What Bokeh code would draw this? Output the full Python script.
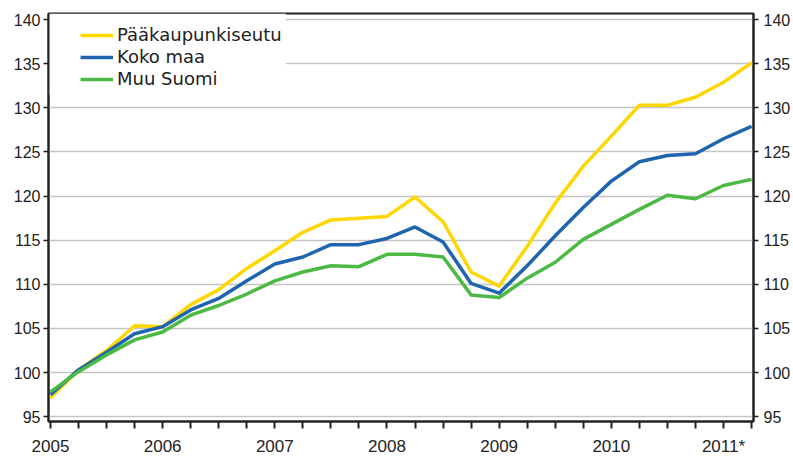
from bokeh.plotting import figure
from bokeh.models import (Range1d, FixedTicker, LinearAxis, Legend, LegendItem,
                          BoxAnnotation, ColumnDataSource)
from bokeh.embed import file_html
from bokeh.resources import INLINE

quarters = ["2005Q1", "2005Q2", "2005Q3", "2005Q4",
            "2006Q1", "2006Q2", "2006Q3", "2006Q4",
            "2007Q1", "2007Q2", "2007Q3", "2007Q4",
            "2008Q1", "2008Q2", "2008Q3", "2008Q4",
            "2009Q1", "2009Q2", "2009Q3", "2009Q4",
            "2010Q1", "2010Q2", "2010Q3", "2010Q4",
            "2011Q1", "2011Q2"]
year_labels = ["2005", "2006", "2007", "2008", "2009", "2010", "2011*"]

paakaupunkiseutu = [97.1, 100.3, 102.5, 105.3, 105.2, 107.7, 109.4, 111.8, 113.8, 115.9,
                    117.3, 117.5, 117.7, 119.9, 117.1, 111.4, 109.8, 114.3, 119.2, 123.4,
                    126.8, 130.3, 130.3, 131.2, 132.9, 135.1]
koko_maa = [97.5, 100.3, 102.3, 104.4, 105.2, 107.1, 108.4, 110.4, 112.3, 113.1,
            114.5, 114.5, 115.2, 116.5, 114.8, 110.1, 109.0, 112.1, 115.5, 118.7,
            121.7, 123.9, 124.6, 124.8, 126.5, 127.9]
muu_suomi = [97.8, 100.1, 102.0, 103.7, 104.6, 106.5, 107.6, 108.9, 110.4, 111.4,
             112.1, 112.0, 113.4, 113.4, 113.1, 108.8, 108.5, 110.7, 112.5, 115.1,
             116.8, 118.5, 120.1, 119.7, 121.2, 121.9]
y_ticks = [95, 100, 105, 110, 115, 120, 125, 130, 135, 140]

xi = list(range(len(quarters)))
src = ColumnDataSource(dict(x=xi, pk=paakaupunkiseutu, km=koko_maa, ms=muu_suomi))

p = figure(width=793, height=458, output_backend="svg", toolbar_location=None,
           x_range=Range1d(-0.07, 25.07), y_range=Range1d(94.45, 140.7))
p.min_border_left = 48
p.min_border_right = 40
p.min_border_top = 13
p.min_border_bottom = 35
p.background_fill_color = "white"
p.border_fill_color = "white"
p.outline_line_color = "#222222"
p.outline_line_width = 2

AX = "#222222"
TXT = "#222222"

# x axis
xa = p.xaxis[0]
xa.ticker = FixedTicker(ticks=xi)
overrides = {i: "" for i in xi}
for k, lab in enumerate(year_labels):
    overrides[k * 4] = lab
xa.major_label_overrides = overrides
xa.major_tick_out = 7
xa.major_tick_in = 0
xa.minor_tick_out = 0
xa.minor_tick_in = 0
xa.major_tick_line_width = 2
xa.major_tick_line_color = AX
xa.axis_line_width = 2
xa.axis_line_color = AX
xa.major_label_standoff = 8
xa.major_label_text_font = "Liberation Sans"
xa.major_label_text_font_size = "17px"
xa.major_label_text_color = TXT

# y axes
ya = p.yaxis[0]
ya.ticker = FixedTicker(ticks=y_ticks)
yr = LinearAxis(ticker=FixedTicker(ticks=y_ticks))
p.add_layout(yr, "right")
for a, so in [(ya, 3), (yr, 5)]:
    a.major_tick_out = 5
    a.major_tick_in = 0
    a.minor_tick_out = 0
    a.minor_tick_in = 0
    a.major_tick_line_width = 1.5
    a.major_tick_line_color = AX
    a.axis_line_width = 2
    a.axis_line_color = AX
    a.major_label_standoff = so
    a.major_label_text_font = "Liberation Sans"
    a.major_label_text_font_size = "16px"
    a.major_label_text_color = TXT

p.xgrid.grid_line_color = None
p.ygrid.ticker = FixedTicker(ticks=y_ticks)
p.ygrid.grid_line_color = "#c4c4c4"
p.ygrid.grid_line_width = 1.5

# white area behind legend (hides grid lines)
box = BoxAnnotation(right=8.4, bottom=131.5, fill_color="white", fill_alpha=1.0,
                    line_alpha=0, level="underlay")
p.add_layout(box)

r1 = p.line("x", "pk", source=src, line_color="#FFD700", line_width=3.5, line_join="round")
r2 = p.line("x", "km", source=src, line_color="#1E64AE", line_width=3.5, line_join="round")
r3 = p.line("x", "ms", source=src, line_color="#4CB944", line_width=3.5, line_join="round")

legend = Legend(items=[LegendItem(label="Pääkaupunkiseutu", renderers=[r1]),
                       LegendItem(label="Koko maa", renderers=[r2]),
                       LegendItem(label="Muu Suomi", renderers=[r3])],
                location=(32, 332))
legend.background_fill_alpha = 0
legend.border_line_color = None
legend.padding = 0
legend.margin = 0
legend.spacing = 1
legend.glyph_width = 33
legend.glyph_height = 20
legend.label_height = 20
legend.label_standoff = 4
legend.label_text_font = "DejaVu Sans"
legend.label_text_font_size = "18px"
legend.label_text_color = TXT
p.add_layout(legend, "center")

open("out.html", "w").write(file_html(p, INLINE))
